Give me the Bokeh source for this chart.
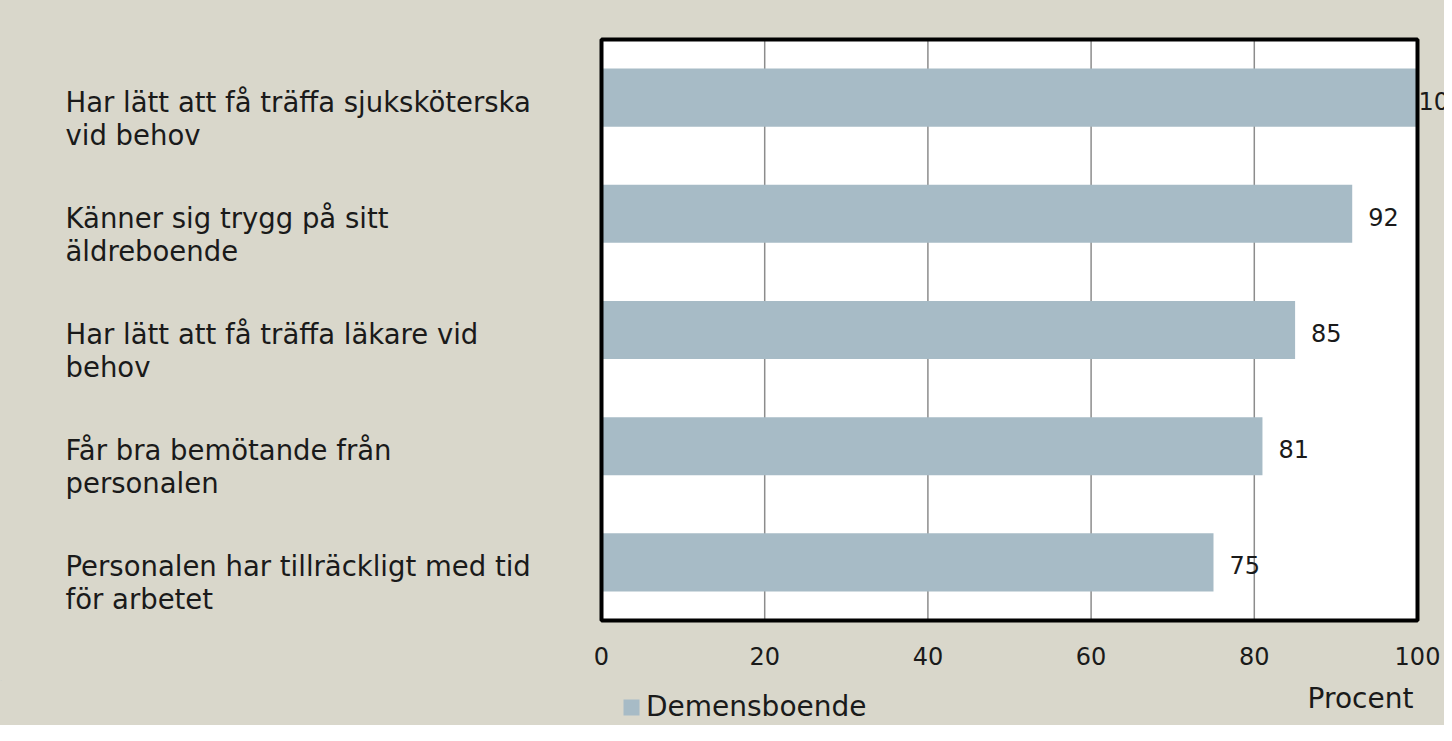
from bokeh.plotting import figure
from bokeh.layouts import column
from bokeh.models import (ColumnDataSource, Range1d, FixedTicker, Legend, LegendItem)
from bokeh.core.properties import value
from bokeh.embed import file_html
from bokeh.resources import INLINE

# ---- data ----
categories = [
    "Har lätt att få träffa sjuksköterska\nvid behov",
    "Känner sig trygg på sitt\näldreboende",
    "Har lätt att få träffa läkare vid\nbehov",
    "Får bra bemötande från\npersonalen",
    "Personalen har tillräckligt med tid\nför arbetet",
]
values = [100, 92, 85, 81, 75]
x_ticks = [0, 20, 40, 60, 80, 100]
x_max = 100
series_name = "Demensboende"
axis_title = "Procent"

# ---- style / layout ----
FONT = "DejaVu Sans"
BG = "#d9d7cb"
BAR = "#a7bbc6"
TXT = "#1a1a1a"
GRID = "#8c8c8c"

W = 1444
H_MAIN = 680
H_BOT = 45
BOX_L, BOX_R = 601, 1417      # pixel extent of plot box
BOX_T, BOX_B = 39, 620
AX_H = 56                      # space for tick labels
frame_h = H_MAIN - AX_H
n = len(categories)
px_x = (BOX_R - BOX_L) / x_max
px_y = (BOX_B - BOX_T) / n

x0 = -BOX_L / px_x
x1 = (W - BOX_L) / px_x
y_top = -BOX_T / px_y
y_bot = n + (frame_h - BOX_B) / px_y

pos = [i + 0.5 for i in range(n)]
line1 = [c.split("\n")[0] for c in categories]
line2 = [c.split("\n")[1] if "\n" in c else "" for c in categories]
lab_x = (65 - BOX_L) / px_x

src = ColumnDataSource(dict(
    y=pos, v=values,
    txt=[str(v) for v in values],
    vx=[v + (1 if v >= x_max else 16) / px_x for v in values],
    vy=[p + 3 / px_y for p in pos],
    l1=line1, l2=line2,
    l1y=[p + 4 / px_y for p in pos],
    l2y=[p + 37 / px_y for p in pos],
    lx=[lab_x] * n,
))
grid_src = ColumnDataSource(dict(x=x_ticks[1:-1], y0=[0] * (len(x_ticks) - 2),
                                 y1=[n] * (len(x_ticks) - 2)))

p = figure(width=W, height=H_MAIN, output_backend="svg", toolbar_location=None,
           x_range=Range1d(x0, x1), y_range=Range1d(y_bot, y_top),
           y_axis_location=None, min_border=0)
p.min_border_bottom = AX_H
p.border_fill_color = BG
p.background_fill_color = BG
p.outline_line_color = None
p.grid.visible = False

# white plot box
p.quad(left=[0], right=[x_max], top=[0], bottom=[n], fill_color="white", line_color=None)
# vertical grid lines
p.segment(x0="x", x1="x", y0="y0", y1="y1", source=grid_src,
          line_color=GRID, line_width=1.5)
# bars
r = p.hbar(y="y", right="v", left=0, height=0.5, source=src,
           fill_color=BAR, line_color=None)
# black border
p.quad(left=[0], right=[x_max], top=[0], bottom=[n], fill_color=None,
       line_color="black", line_width=4)

# value labels
p.text(x="vx", y="vy", text="txt", source=src, text_font=value(FONT),
       text_font_size=value("24px"), text_color=TXT,
       text_baseline="middle", text_align="left")
# category labels
for col, ycol in (("l1", "l1y"), ("l2", "l2y")):
    p.text(x="lx", y=ycol, text=col, source=src, text_font=value(FONT),
           text_font_size=value("27.5px"), text_color=TXT,
           text_baseline="middle", text_align="left")

ax = p.xaxis[0]
ax.ticker = FixedTicker(ticks=x_ticks)
ax.axis_line_color = None
ax.major_tick_line_color = None
ax.minor_tick_line_color = None
ax.major_tick_out = 0
ax.major_tick_in = 0
ax.major_label_standoff = 22
ax.major_label_text_font = FONT
ax.major_label_text_font_size = "24px"
ax.major_label_text_color = TXT

# ---- bottom strip: legend + axis title ----
b = figure(width=W, height=H_BOT, output_backend="svg", toolbar_location=None,
           x_range=Range1d(0, W), y_range=Range1d(H_BOT, 0),
           x_axis_location=None, y_axis_location=None, min_border=0)
b.border_fill_color = BG
b.background_fill_color = BG
b.outline_line_color = None
b.grid.visible = False
b.text(x=[1360], y=[18], text=[axis_title], text_font=value(FONT),
       text_font_size=value("28px"), text_color=TXT,
       text_align="center", text_baseline="middle")
# legend proxy (outside the visible range, only supplies the legend swatch)
proxy = b.hbar(y=[-1000], left=[0], right=[1], height=1,
               fill_color=BAR, line_color=None)
legend = Legend(items=[LegendItem(label=series_name, renderers=[proxy])],
                location=(621, 2), orientation="horizontal",
                glyph_width=20, glyph_height=20, label_standoff=5,
                padding=0, margin=0, spacing=0,
                border_line_color=None, background_fill_alpha=0,
                label_text_font=FONT, label_text_font_size="28px",
                label_text_color=TXT)
b.add_layout(legend, "center")

layout = column(p, b, spacing=0, styles={"background-color": BG})
open("out.html", "w").write(file_html(layout, INLINE))
